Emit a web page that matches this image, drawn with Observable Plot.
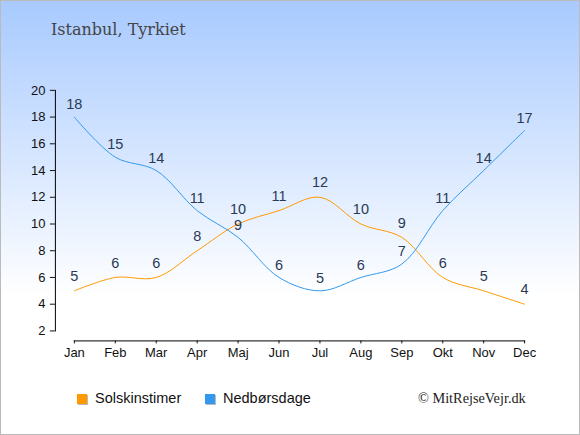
<!DOCTYPE html>
<html>
<head>
<meta charset="utf-8">
<script src="https://cdn.jsdelivr.net/npm/d3@7"></script>
<script src="https://cdn.jsdelivr.net/npm/@observablehq/plot@0.6"></script>
<style>
  html, body { margin: 0; padding: 0; }
  #wrap {
    position: relative; width: 578px; height: 433px;
    border: 1px solid #bbbbbb;
    background: linear-gradient(to bottom, #a8caff 0%, #ffffff 68%, #ffffff 100%);
    overflow: hidden;
  }
  #title {
    position: absolute; left: 50px; top: 19px;
    font-family: "DejaVu Serif", serif; font-size: 16px; color: #444444;
  }
  #chart { position: absolute; left: -1px; top: -1px; }
  .leg { position: absolute; top: 389px; font-family: "Liberation Sans", Arial, sans-serif; font-size: 14.5px; color: #111; white-space: nowrap; }
  .sw { display: inline-block; width: 10px; height: 10px; margin-right: 8px; vertical-align: -1px; box-shadow: 1px 1px 0 #bbbbbb; }
  #copy { position: absolute; left: 417px; top: 389px; font-family: "Liberation Serif", serif; font-size: 14.3px; color: #222; white-space: nowrap; }
</style>
</head>
<body>
<div id="wrap">
  <div id="chart"></div>
  <div id="title">Istanbul, Tyrkiet</div>
  <div class="leg" style="left:76px"><span class="sw" style="background:#ff9900"></span>Solskinstimer</div>
  <div class="leg" style="left:204px"><span class="sw" style="background:#3399ee"></span>Nedbørsdage</div>
  <div id="copy">© MitRejseVejr.dk</div>
</div>
<script>
const months = ["Jan","Feb","Mar","Apr","Maj","Jun","Jul","Aug","Sep","Okt","Nov","Dec"];
const sunHours = [5,6,6,8,10,11,12,10,9,6,5,4];
const rainDays = [18,15,14,11,9,6,5,6,7,11,14,17];
const yTicks = [2,4,6,8,10,12,14,16,18,20];

const sun = months.map((m, i) => ({month: m, value: sunHours[i]}));
const rain = months.map((m, i) => ({month: m, value: rainDays[i]}));

const chart = Plot.plot({
  width: 580,
  height: 435,
  marginLeft: 55,
  marginRight: 55,
  marginTop: 90,
  marginBottom: 94,
  style: {background: "transparent", fontFamily: "Liberation Sans, Arial, sans-serif", fontSize: "13px", color: "#111"},
  x: {type: "point", domain: months, padding: 0, insetLeft: 19, label: null},
  y: {domain: [2, 20], insetBottom: 10, label: null},
  marks: [
    Plot.frame({anchor: "left", insetBottom: 10, stroke: "#000"}),
    Plot.frame({anchor: "bottom", insetLeft: 19, stroke: "#000"}),
    Plot.axisY({ticks: yTicks, tickSize: 5, tickPadding: 5, fontSize: 13, label: null}),
    Plot.axisX({tickSize: 3, tickPadding: 4, fontSize: 13, label: null}),
    Plot.line(sun, {x: "month", y: "value", stroke: "#ff9900", strokeWidth: 1, curve: "catmull-rom"}),
    Plot.line(rain, {x: "month", y: "value", stroke: "#3399ee", strokeWidth: 1, curve: "catmull-rom"}),
    Plot.text(sun, {x: "month", y: "value", text: "value", dy: -14.5, fill: "#2a3a55", fontSize: 14.5}),
    Plot.text(rain, {x: "month", y: "value", text: "value", dy: -12.5, fill: "#2a3a55", fontSize: 14.5})
  ]
});
document.getElementById("chart").appendChild(chart);
</script>
</body>
</html>
